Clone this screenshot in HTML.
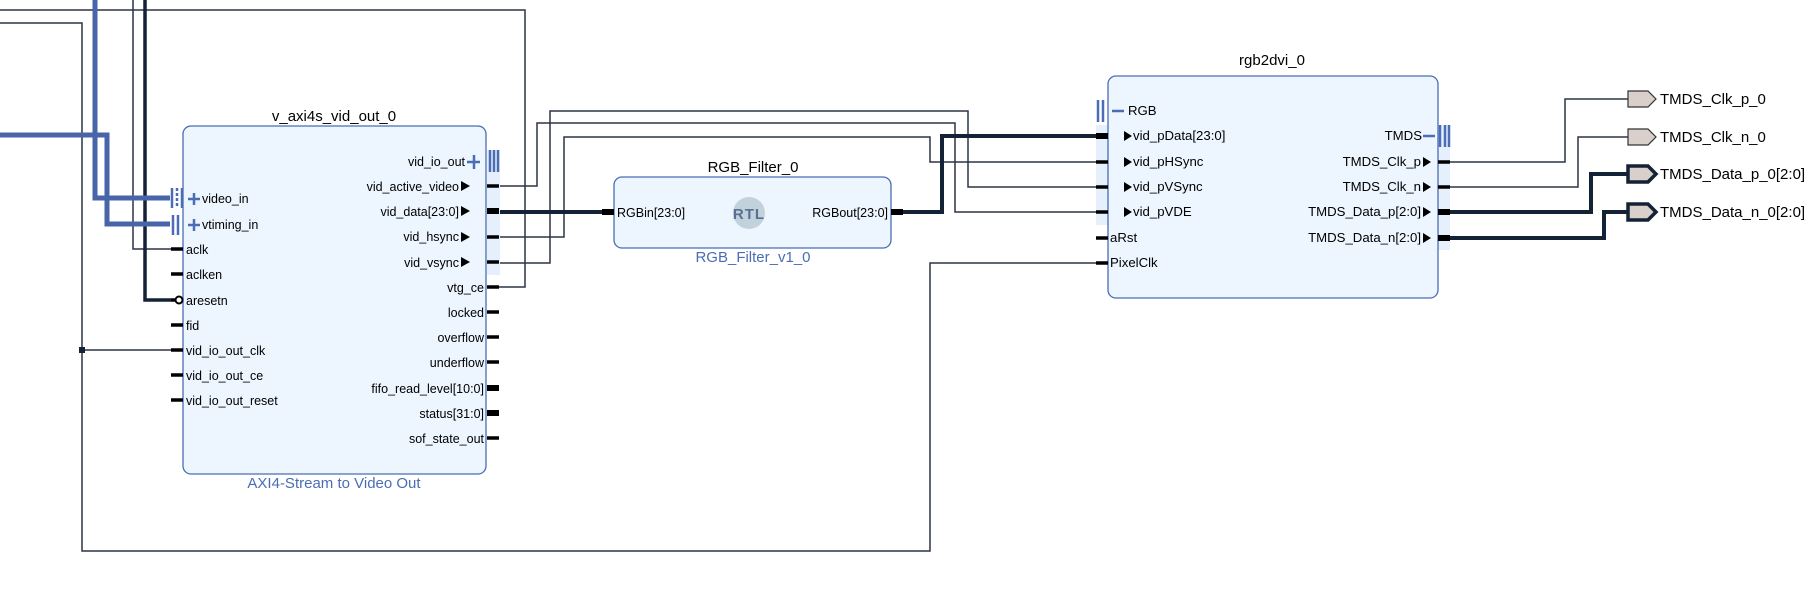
<!DOCTYPE html>
<html><head><meta charset="utf-8"><style>
html,body{margin:0;padding:0;background:#fff;}
svg{display:block;font-family:"Liberation Sans",sans-serif;}
.t{font-size:12.5px;fill:#000;}
.h{font-size:15px;fill:#000;}
.w{fill:none;stroke:#2b3545;stroke-width:1.5;}
.wt{fill:none;stroke:#142236;stroke-width:4;}
.b{fill:none;stroke:#4765a8;stroke-width:5;}
.blk{fill:#edf5fe;stroke:#4a6db5;stroke-width:1.3;}
.s{stroke:#000;stroke-width:3.5;}
.sb{stroke:#000;stroke-width:6;}
.ib{stroke:#4a6db5;stroke-width:2.5;}
</style></head><body>
<svg width="1813" height="603" viewBox="0 0 1813 603" xmlns="http://www.w3.org/2000/svg">
<polyline class="w" points="0,10 525,10 525,287 499,287"/>
<polyline class="w" points="0,23 82,23 82,551 930,551 930,263 1100,263"/>
<polyline class="w" points="82,350 171,350"/>
<rect x="79" y="347" width="6" height="6" fill="#142236"/>
<polyline class="w" points="133,0 133,249 171,249"/>
<polyline class="wt" points="145,0 145,300 171,300" style="stroke-width:3.5"/>
<polyline class="b" points="95,0 95,198 170,198"/>
<polyline class="b" points="0,135 107,135 107,224 170,224"/>
<polyline class="w" points="499,186 537,186 537,123 955,123 955,212 1100,212"/>
<polyline class="w" points="499,237 564,237 564,137 930,137 930,162 1100,162"/>
<polyline class="w" points="499,263 550,263 550,111 968,111 968,187 1100,187"/>
<polyline class="wt" points="499,212 605,212"/>
<polyline class="wt" points="900,212 942,212 942,136 1100,136"/>
<polyline class="w" points="1446,162 1565,162 1565,99 1628,99"/>
<polyline class="w" points="1446,187 1578,187 1578,137 1628,137"/>
<polyline class="wt" points="1446,212 1591,212 1591,174 1628,174"/>
<polyline class="wt" points="1446,238 1604,238 1604,212 1628,212"/>

<rect x="487" y="150" width="13" height="125" fill="#e6f0fc"/>
<rect x="183" y="126" width="303" height="348" rx="8" class="blk"/>
<text x="334" y="121" class="h" text-anchor="middle">v_axi4s_vid_out_0</text>
<text x="334" y="488" class="h" text-anchor="middle" style="fill:#4a6db5">AXI4-Stream to Video Out</text>
<g class="t">
<text x="202" y="203">video_in</text>
<text x="202" y="229">vtiming_in</text>
<text x="186" y="254">aclk</text>
<text x="186" y="279">aclken</text>
<text x="186" y="305">aresetn</text>
<text x="186" y="330">fid</text>
<text x="186" y="355">vid_io_out_clk</text>
<text x="186" y="380">vid_io_out_ce</text>
<text x="186" y="405">vid_io_out_reset</text>
</g>
<g class="t" text-anchor="end">
<text x="465" y="166">vid_io_out</text>
<text x="459" y="191">vid_active_video</text>
<text x="459" y="216">vid_data[23:0]</text>
<text x="459" y="241">vid_hsync</text>
<text x="459" y="267">vid_vsync</text>
<text x="484" y="292">vtg_ce</text>
<text x="484" y="317">locked</text>
<text x="484" y="342">overflow</text>
<text x="484" y="367">underflow</text>
<text x="484" y="393">fifo_read_level[10:0]</text>
<text x="484" y="418">status[31:0]</text>
<text x="484" y="443">sof_state_out</text>
</g>
<g fill="#000">
<polygon points="461,181 470,186 461,191"/><polygon points="461,206 470,211 461,216"/>
<polygon points="461,232 470,237 461,242"/><polygon points="461,257 470,262 461,267"/>
</g>
<g class="s"><line x1="171" y1="249" x2="183" y2="249"/><line x1="171" y1="274" x2="183" y2="274"/><line x1="171" y1="300" x2="183" y2="300"/><line x1="171" y1="325" x2="183" y2="325"/><line x1="171" y1="350" x2="183" y2="350"/><line x1="171" y1="375" x2="183" y2="375"/><line x1="171" y1="400" x2="183" y2="400"/></g>
<circle cx="179" cy="300" r="3.5" fill="#fff" stroke="#000" stroke-width="2"/>
<g class="s"><line x1="487" y1="186" x2="499" y2="186"/><line x1="487" y1="237" x2="499" y2="237"/><line x1="487" y1="262" x2="499" y2="262"/><line x1="487" y1="287" x2="499" y2="287"/><line x1="487" y1="312" x2="499" y2="312"/><line x1="487" y1="337" x2="499" y2="337"/><line x1="487" y1="362" x2="499" y2="362"/><line x1="487" y1="438" x2="499" y2="438"/></g>
<g class="sb"><line x1="487" y1="211" x2="499" y2="211"/><line x1="487" y1="388" x2="499" y2="388"/><line x1="487" y1="413" x2="499" y2="413"/></g>
<g class="ib">
<line x1="172" y1="188" x2="172" y2="208"/><line x1="177" y1="188" x2="177" y2="208" stroke-dasharray="3,2"/><line x1="182" y1="188" x2="182" y2="208"/>
<line x1="173" y1="215" x2="173" y2="235"/><line x1="178" y1="215" x2="178" y2="235"/>
<line x1="188" y1="199" x2="200" y2="199"/><line x1="194" y1="193" x2="194" y2="205"/>
<line x1="188" y1="225" x2="200" y2="225"/><line x1="194" y1="219" x2="194" y2="231"/>
<line x1="467" y1="162" x2="480" y2="162"/><line x1="474" y1="155" x2="474" y2="169"/>
<line x1="490" y1="150" x2="490" y2="172"/><line x1="494" y1="150" x2="494" y2="172"/><line x1="498" y1="150" x2="498" y2="172"/>
</g>

<rect x="614" y="177" width="277" height="71" rx="8" class="blk"/>
<text x="753" y="172" class="h" text-anchor="middle">RGB_Filter_0</text>
<text x="753" y="262" class="h" text-anchor="middle" style="fill:#4a6db5">RGB_Filter_v1_0</text>
<text x="617" y="217" class="t">RGBin[23:0]</text>
<text x="888" y="217" class="t" text-anchor="end">RGBout[23:0]</text>
<circle cx="749" cy="213" r="16" fill="#c2d2dc"/>
<text x="749" y="219" text-anchor="middle" style="font-size:15px;font-weight:bold;fill:#5a7090;letter-spacing:1px">RTL</text>
<g class="sb"><line x1="602" y1="212" x2="614" y2="212"/><line x1="891" y1="212" x2="903" y2="212"/></g>

<rect x="1096" y="125" width="12" height="100" fill="#e6f0fc"/>
<rect x="1438" y="125" width="12" height="125" fill="#e6f0fc"/>
<rect x="1108" y="76" width="330" height="222" rx="8" class="blk"/>
<text x="1272" y="65" class="h" text-anchor="middle">rgb2dvi_0</text>
<g class="t" style="font-size:13.2px">
<text x="1128" y="115">RGB</text>
<text x="1133" y="140">vid_pData[23:0]</text>
<text x="1133" y="166">vid_pHSync</text>
<text x="1133" y="191">vid_pVSync</text>
<text x="1133" y="216">vid_pVDE</text>
<text x="1110" y="242">aRst</text>
<text x="1110" y="267">PixelClk</text>
</g>
<g class="t" text-anchor="end" style="font-size:13.2px">
<text x="1422" y="140">TMDS</text>
<text x="1421" y="166">TMDS_Clk_p</text>
<text x="1421" y="191">TMDS_Clk_n</text>
<text x="1421" y="216">TMDS_Data_p[2:0]</text>
<text x="1421" y="242">TMDS_Data_n[2:0]</text>
</g>
<g fill="#000">
<polygon points="1124,131 1132,136 1124,141"/><polygon points="1124,157 1132,162 1124,167"/>
<polygon points="1124,182 1132,187 1124,192"/><polygon points="1124,207 1132,212 1124,217"/>
<polygon points="1423,157 1431,162 1423,167"/><polygon points="1423,182 1431,187 1423,192"/>
<polygon points="1423,207 1431,212 1423,217"/><polygon points="1423,233 1431,238 1423,243"/>
</g>
<g class="s"><line x1="1096" y1="162" x2="1108" y2="162"/><line x1="1096" y1="187" x2="1108" y2="187"/><line x1="1096" y1="212" x2="1108" y2="212"/><line x1="1096" y1="238" x2="1108" y2="238"/><line x1="1096" y1="263" x2="1108" y2="263"/>
<line x1="1438" y1="162" x2="1450" y2="162"/><line x1="1438" y1="187" x2="1450" y2="187"/></g>
<g class="sb"><line x1="1096" y1="136" x2="1108" y2="136"/><line x1="1438" y1="212" x2="1450" y2="212"/><line x1="1438" y1="238" x2="1450" y2="238"/></g>
<g class="ib">
<line x1="1098" y1="100" x2="1098" y2="122"/><line x1="1103" y1="100" x2="1103" y2="122"/>
<line x1="1112" y1="111" x2="1124" y2="111"/>
<line x1="1423" y1="136" x2="1435" y2="136"/>
<line x1="1440" y1="125" x2="1440" y2="147"/><line x1="1445" y1="125" x2="1445" y2="147"/><line x1="1449" y1="125" x2="1449" y2="147"/>
</g>

<g fill="#d9cfcb" stroke="#333" stroke-width="1.2">
<polygon points="1628,91 1648,91 1656,99 1648,107 1628,107"/>
<polygon points="1628,129 1648,129 1656,137 1648,145 1628,145"/>
</g>
<g fill="#d9cfcb" stroke="#142236" stroke-width="3.5">
<polygon points="1628,166 1648,166 1656,174 1648,182 1628,182"/>
<polygon points="1628,204 1648,204 1656,212 1648,220 1628,220"/>
</g>
<g class="t" style="font-size:15px">
<text x="1660" y="104">TMDS_Clk_p_0</text>
<text x="1660" y="142">TMDS_Clk_n_0</text>
<text x="1660" y="179">TMDS_Data_p_0[2:0]</text>
<text x="1660" y="217">TMDS_Data_n_0[2:0]</text>
</g>
</svg>
</body></html>
